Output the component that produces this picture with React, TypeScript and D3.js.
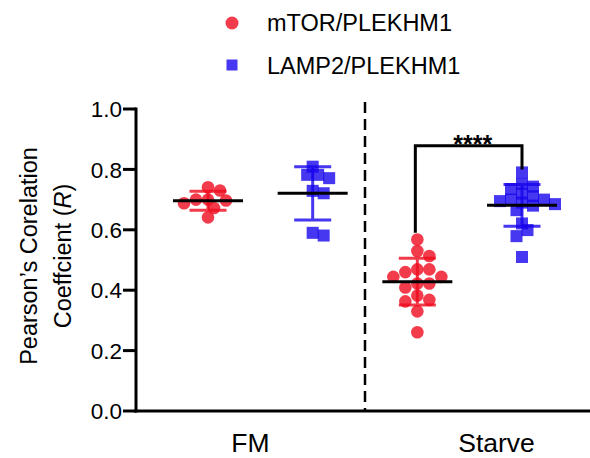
import React from 'react';
import * as d3 from 'd3';

// ---- data ----
const conditions = ['FM', 'Starve'];
const seriesNames = ['mTOR/PLEKHM1', 'LAMP2/PLEKHM1'];
const fmMtor = [0.741, 0.73, 0.7, 0.7, 0.697, 0.688, 0.672, 0.641];
const fmLamp2 = [0.809, 0.782, 0.771, 0.782, 0.729, 0.721, 0.581, 0.59];
const starveMtor = [0.568, 0.53, 0.513, 0.469, 0.469, 0.46, 0.444, 0.444, 0.422, 0.422, 0.409, 0.382, 0.368, 0.363, 0.33, 0.261];
const starveLamp2 = [0.79, 0.752, 0.743, 0.735, 0.711, 0.72, 0.7, 0.695, 0.69, 0.7, 0.685, 0.68, 0.665, 0.621, 0.599, 0.579, 0.51];
const yTicks = [0, 0.2, 0.4, 0.6, 0.8, 1.0];
const significanceLabel = '****';
const bracketLevels = { top: 0.878, left: 0.59, right: 0.8 };

const W = 590;
const H = 458;
const FONT = "'Liberation Sans', Arial, Helvetica, sans-serif";
const colors = ['rgb(239,11,30)', 'rgb(24,5,236)'];
const markOpacity = 0.8;

const y = d3.scaleLinear().domain([0, 1]).range([411, 109]);
const slot = d3.scaleLinear().domain([0, 3]).range([208, 522]);
const axisLeft = 136;
const axisRight = slot(3) + 106;
const divider = slot(1.5);

const groups = [
  { cond: 0, series: 0, values: fmMtor },
  { cond: 0, series: 1, values: fmLamp2 },
  { cond: 1, series: 0, values: starveMtor },
  { cond: 1, series: 1, values: starveLamp2 },
];

function swarm(values: number[], cx: number, minDist: number, step: number) {
  const idx = values.map((v, i) => i).sort((a, b) => values[b] - values[a]);
  const placed: { x: number; y: number; v: number }[] = [];
  for (const i of idx) {
    const py = y(values[i]);
    let k = 0;
    let px = cx;
    while (true) {
      const off = k === 0 ? 0 : (k % 2 === 1 ? 1 : -1) * Math.ceil(k / 2) * step;
      px = cx + off;
      const ok = placed.every((p) => Math.hypot(p.x - px, p.y - py) >= minDist);
      if (ok || k > 20) break;
      k++;
    }
    placed.push({ x: px, y: py, v: values[i] });
  }
  return placed;
}

export default function App() {
  const tickLen = 13;
  return (
    <svg width={W} height={H} style={{ position: 'absolute', left: 0, top: 0, background: '#fff' }} fontFamily={FONT}>
      {/* legend */}
      <circle cx={232} cy={23} r={6.5} fill={colors[0]} opacity={markOpacity} />
      <rect x={226.5} y={59.5} width={11} height={11} fill={colors[1]} opacity={markOpacity} />
      <text x={267} y={31} fontSize={23.5} fill="#000">{seriesNames[0]}</text>
      <text x={267} y={74} fontSize={23.5} fill="#000">{seriesNames[1]}</text>

      {/* y axis title */}
      <text transform={`translate(37,256) rotate(-90)`} textAnchor="middle" fontSize={23.5}>Pearson’s Corelation</text>
      <text transform={`translate(71,256) rotate(-90)`} textAnchor="middle" fontSize={23.5}>
        Coeffcient (<tspan fontStyle="italic">R</tspan>)
      </text>

      {/* y axis */}
      <line x1={axisLeft} x2={axisLeft} y1={y(1) - 1.5} y2={y(0) + 1.5} stroke="#000" strokeWidth={3} />
      {yTicks.map((t) => (
        <g key={t}>
          <line x1={axisLeft - tickLen} x2={axisLeft} y1={y(t)} y2={y(t)} stroke="#000" strokeWidth={3} />
          <text x={axisLeft - tickLen - 1} y={y(t)} dy="0.36em" textAnchor="end" fontSize={22.5}>
            {d3.format('.1f')(t)}
          </text>
        </g>
      ))}
      {/* x axis */}
      <line x1={axisLeft - 1.5} x2={axisRight} y1={y(0)} y2={y(0)} stroke="#000" strokeWidth={3} />
      <text x={(axisLeft + divider) / 2} y={y(0) + 41} textAnchor="middle" fontSize={26.5}>{conditions[0]}</text>
      <text x={(divider + axisRight) / 2} y={y(0) + 41} textAnchor="middle" fontSize={26.5}>{conditions[1]}</text>

      {/* divider */}
      <line x1={divider} x2={divider} y1={y(1) - 7} y2={y(0)} stroke="#000" strokeWidth={2.5} strokeDasharray="11,6" />

      {/* data */}
      {groups.map((g, gi) => {
        const cx = slot(gi);
        const pts = g.series === 0 ? swarm(g.values, cx, 10, 6) : swarm(g.values, cx, 8.5, 5.5);
        const mean = d3.mean(g.values) as number;
        const sd = d3.deviation(g.values) as number;
        const col = colors[g.series];
        return (
          <g key={gi}>
            {pts.map((p, i) =>
              g.series === 0 ? (
                <circle key={i} cx={p.x} cy={p.y} r={6.3} fill={col} opacity={markOpacity} />
              ) : (
                <rect key={i} x={p.x - 6} y={p.y - 6} width={12} height={12} fill={col} opacity={markOpacity} />
              )
            )}
            <g stroke={col} strokeWidth={3} opacity={markOpacity}>
              <line x1={cx} x2={cx} y1={y(mean + sd)} y2={y(mean - sd)} />
              <line x1={cx - 18.5} x2={cx + 18.5} y1={y(mean + sd)} y2={y(mean + sd)} />
              <line x1={cx - 18.5} x2={cx + 18.5} y1={y(mean - sd)} y2={y(mean - sd)} />
            </g>
            <line x1={cx - 35} x2={cx + 35} y1={y(mean)} y2={y(mean)} stroke="#000" strokeWidth={3} />
          </g>
        );
      })}

      {/* significance bracket */}
      <path
        d={`M${slot(2) - 2},${y(bracketLevels.left)}V${y(bracketLevels.top)}H${slot(3)}V${y(bracketLevels.right)}`}
        fill="none"
        stroke="#000"
        strokeWidth={3}
      />
      <text x={(slot(2) + slot(3)) / 2 + 3} y={y(bracketLevels.top) + 7} textAnchor="middle" fontSize={25} fontWeight="bold">
        {significanceLabel}
      </text>
    </svg>
  );
}
